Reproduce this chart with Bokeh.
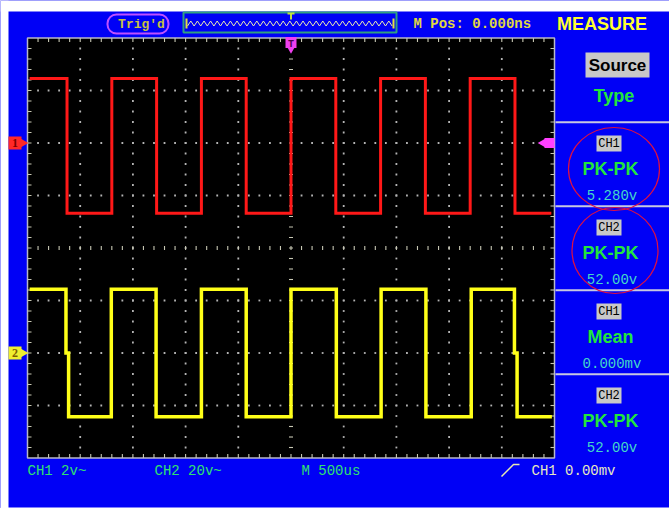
import numpy as np
from bokeh.plotting import figure
from bokeh.models import Range1d
from bokeh.core.properties import value
from bokeh.embed import file_html
from bokeh.resources import INLINE

# ---------------- data ----------------
time_per_div_us = 500
ch1_volts_per_div = 2.0
ch2_volts_per_div = 20.0
ch1_position_div = 2.0
ch2_position_div = -2.0
trigger_time_us = 0.0
trigger_level_v = 0.0

ch1_edges_us = [-2125, -1700, -1275, -850, -425, 0, 425, 850, 1275, 1700, 2125]
ch1_high_v = 2.46
ch1_low_v = -2.68
ch1_start_us = -2480
ch1_end_us = 2470

ch2_edges_us = [-2135, -1705, -1280, -850, -425, 0, 430, 855, 1280, 1710, 2120]
ch2_high_v = 24.3
ch2_low_v = -24.3
ch2_start_us = -2480
ch2_end_us = 2475
ch2_glitch_edges_us = [-2135, 2120]
ch2_glitch_len_us = 25

menu_title = "MEASURE"
menu_head = ["Source", "Type"]
meas_channels = ["CH1", "CH2", "CH1", "CH2"]
meas_types = ["PK-PK", "PK-PK", "Mean", "PK-PK"]
meas_values = ["5.280v", "52.00v", "0.000mv", "52.00v"]
circled_items = [0, 1]

status_trig = "Trig'd"
status_mpos = "M Pos: 0.000ns"
bottom_labels = ["CH1 2v~", "CH2 20v~", "M 500us"]
trigger_label = "CH1 0.00mv"

# ---------------- layout / styling (pixel coordinates) ----------------
W, H = 669, 508
SX0, SX1 = 27.0, 554.0
SY0, SY1 = 37.5, 457.5
DX = (SX1 - SX0) / 10
DY = (SY1 - SY0) / 8
CX = (SX0 + SX1) / 2
CY = (SY0 + SY1) / 2

BLUE = "#0000f6"
MONO = value("Liberation Mono")
SANS = value("Liberation Sans")

p = figure(width=W, height=H, x_range=Range1d(0, W), y_range=Range1d(H, 0),
           x_axis_type=None, y_axis_type=None, output_backend="svg",
           toolbar_location=None, min_border=0,
           background_fill_color=BLUE, border_fill_color=BLUE,
           outline_line_color=None)
p.grid.visible = False

# extra ranges mapping instrument units onto the screen area
us_per_px = 10 * time_per_div_us / (SX1 - SX0)
p.extra_x_ranges = {"t": Range1d(trigger_time_us - CX * us_per_px,
                                 trigger_time_us + (W - CX) * us_per_px)}
yg1 = CY - ch1_position_div * DY
vpp1 = ch1_volts_per_div / DY
yg2 = CY - ch2_position_div * DY
vpp2 = ch2_volts_per_div / DY
p.extra_y_ranges = {"v1": Range1d((yg1 - H) * vpp1, yg1 * vpp1),
                    "v2": Range1d((yg2 - H) * vpp2, yg2 * vpp2)}

# white margins of the photo
p.quad(left=0, right=W, top=0, bottom=11, fill_color="white", line_color=None)
p.quad(left=0, right=8, top=0, bottom=H, fill_color="white", line_color=None)
p.quad(left=0, right=W, top=507, bottom=H, fill_color="white", line_color=None)

# screen
p.quad(left=SX0, right=SX1, top=SY0, bottom=SY1, fill_color="black",
       line_color="#b8b8c8", line_width=1.5)

# graticule dots
gx, gy = [], []
for k in range(1, 10):
    if k == 5:
        continue
    for j in range(1, 40):
        gx.append(SX0 + k * DX); gy.append(SY0 + j * DY / 5)
for k in range(1, 8):
    if k == 4:
        continue
    for j in range(1, 50):
        gx.append(SX0 + j * DX / 5); gy.append(SY0 + k * DY)
p.scatter(gx, gy, marker="square", size=1.8, fill_color="#b4b4b4", line_color=None)

# centre-line ticks and border ticks
sx0, sx1, sy0, sy1 = [], [], [], []
for j in range(1, 40):
    y = SY0 + j * DY / 5
    sx0 += [CX - 2, SX0, SX1 - 4]; sx1 += [CX + 2, SX0 + 4, SX1]
    sy0 += [y, y, y]; sy1 += [y, y, y]
for j in range(1, 50):
    x = SX0 + j * DX / 5
    sx0 += [x, x, x]; sx1 += [x, x, x]
    sy0 += [CY - 2, SY0, SY1 - 4]; sy1 += [CY + 2, SY0 + 4, SY1]
p.segment(sx0, sy0, sx1, sy1, line_color="#c8c8b4", line_width=1.1)


def square_wave(start, end, edges, hi, lo, glitches=(), glitch_len=0):
    t, v, level = [start], [hi], hi
    for e in edges:
        nxt = lo if level == hi else hi
        t.append(e); v.append(level)
        e2 = e
        if e in glitches:
            t += [e, e + glitch_len]; v += [0.0, 0.0]
            e2 = e + glitch_len
        t.append(e2); v.append(nxt)
        level = nxt
    t.append(end); v.append(level)
    return t, v


t1, v1 = square_wave(ch1_start_us, ch1_end_us, ch1_edges_us, ch1_high_v, ch1_low_v)
t2, v2 = square_wave(ch2_start_us, ch2_end_us, ch2_edges_us, ch2_high_v, ch2_low_v,
                     ch2_glitch_edges_us, ch2_glitch_len_us)
p.line(t1, v1, x_range_name="t", y_range_name="v1", line_color="#ff1818",
       line_width=3, line_join="miter")
p.line(t2, v2, x_range_name="t", y_range_name="v2", line_color="#ffff18",
       line_width=3.5, line_join="miter")

# channel ground markers
for rng, col, txt, tcol in (("v1", "#ff2828", "1", "#7a0000"), ("v2", "#f0f030", "2", "#806000")):
    p.scatter([14.5], [0], y_range_name=rng, marker="square", size=13,
              fill_color=col, line_color=None)
    p.scatter([21.5], [0], y_range_name=rng, marker="triangle", size=11,
              angle=-np.pi / 2, fill_color=col, line_color=None)
    p.text([14.5], [0], y_range_name=rng, text=[txt], text_align="center",
           text_baseline="middle", text_color=tcol, text_font=value("Liberation Serif"),
           text_font_size="12px", text_font_style="bold")

# trigger level marker (right edge)
p.scatter([SX1 - 5], [trigger_level_v], y_range_name="v1", marker="square", size=10,
          fill_color="#ff40ff", line_color=None)
p.scatter([SX1 - 11], [trigger_level_v], y_range_name="v1", marker="triangle", size=10,
          angle=np.pi / 2, fill_color="#ff40ff", line_color=None)

# trigger time marker (top)
p.scatter([trigger_time_us], [SY0 + 4.5], x_range_name="t", marker="square", size=11,
          fill_color="#f040f0", line_color=None)
p.scatter([trigger_time_us], [SY0 + 10], x_range_name="t", marker="inverted_triangle",
          size=10, fill_color="#f040f0", line_color=None)
p.text([trigger_time_us], [SY0 + 6], x_range_name="t", text=["T"], text_align="center",
       text_baseline="middle", text_color="#500050", text_font=MONO,
       text_font_size="10px", text_font_style="bold")

# ---------------- right-hand menu ----------------
p.text([601.5], [23], text=[menu_title], text_align="center", text_baseline="middle",
       text_color="#ffff30", text_font=SANS,
       text_font_size="18px", text_font_style="bold")
p.rect([617], [64.5], width=64, height=25, fill_color="#c8c8c8", line_color=None)
p.text([617], [65], text=[menu_head[0]], text_align="center", text_baseline="middle",
       text_color="black", text_font=SANS, text_font_size="17px", text_font_style="bold")
p.text([613.5], [95], text=[menu_head[1]], text_align="center", text_baseline="middle",
       text_color="#22e63c", text_font=SANS, text_font_size="18px", text_font_style="bold")

sep_y = [121.7 + 84 * i for i in range(4)]
p.segment([SX1 + 1] * 4, sep_y, [W] * 4, sep_y, line_color="#c8c8e0", line_width=2)

pitch = 84
n = len(meas_channels)
chip_y = [143 + pitch * i for i in range(n)]
type_y = [168 + pitch * i for i in range(n)]
val_y = [195 + pitch * i for i in range(n)]
p.rect([608.5] * n, chip_y, width=25, height=16, fill_color="#c8c8c8", line_color=None)
p.text([608.5] * n, chip_y, text=meas_channels, text_align="center", text_baseline="middle",
       text_color="black", text_font=MONO, text_font_size="12px")
p.text([610] * n, type_y, text=meas_types, text_align="center", text_baseline="middle",
       text_color="#22e63c", text_font=SANS, text_font_size="18px", text_font_style="bold")
p.text([611.5] * n, val_y, text=meas_values, text_align="center", text_baseline="middle",
       text_color="#44d8c8", text_font=MONO, text_font_size="14px")

ell_x = [613.5, 614.5]
ell_y = [168.5, 250]
ell_w = [91, 86]
ell_h = [83, 86]
p.ellipse([ell_x[i] for i in circled_items], [ell_y[i] for i in circled_items],
          width=[ell_w[i] for i in circled_items], height=[ell_h[i] for i in circled_items],
          fill_color=None, line_color="#e01040", line_width=1.2)

# ---------------- top status bar ----------------
p.rect([137.5], [23.5], width=61, height=19, border_radius=9, fill_color=None,
       line_color="#c050ff", line_width=2)
p.text([141], [24], text=[status_trig], text_align="center", text_baseline="middle",
       text_color="#c8c040", text_font=MONO, text_font_size="13px", text_font_style="bold")
p.quad(left=183, right=396, top=12, bottom=32, fill_color=None, line_color="#30a080",
       line_width=2)
zx = np.arange(187, 392, 3.3)
zy = 23 + 2.5 * np.where(np.arange(len(zx)) % 2 == 0, 1, -1)
p.line(zx, zy, line_color="#e8e8b0", line_width=1)
p.segment([186, 393], [18, 18], [186, 393], [28, 28], line_color="#e0e040", line_width=2)
p.segment([287, 290.5], [13, 13], [294, 290.5], [13, 19], line_color="#c0e040", line_width=2)
p.text([413], [23.5], text=[status_mpos], text_align="left", text_baseline="middle",
       text_color="#e0d840", text_font=MONO, text_font_size="14px", text_font_style="bold")

# ---------------- bottom status bar ----------------
p.text([27, 154, 301], [470] * 3, text=bottom_labels, text_align="left",
       text_baseline="middle", text_color="#30e070", text_font=MONO, text_font_size="14px")
p.line([501, 513, 519], [476, 464, 464], line_color="#e8e8b0", line_width=1.5)
p.text([531], [470], text=[trigger_label], text_align="left", text_baseline="middle",
       text_color="#e8e8c0", text_font=MONO, text_font_size="14px")

open("out.html", "w").write(file_html(p, INLINE))
